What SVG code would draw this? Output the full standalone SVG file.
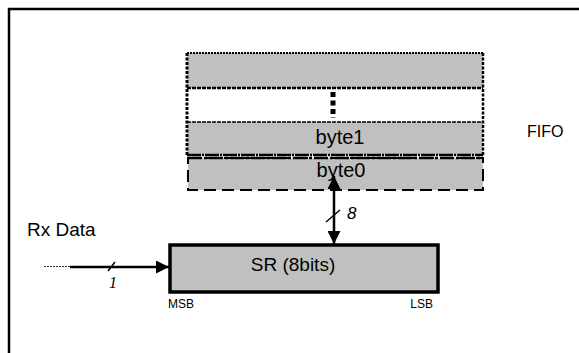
<svg xmlns="http://www.w3.org/2000/svg" width="579" height="353" viewBox="0 0 579 353">
<style>
.t{font-family:"Liberation Sans",Arial,sans-serif;fill:#000}
.gray{fill:#c0c0c0}
.edge{stroke:#000;fill:none}
</style>
<defs>
<marker id="ah2" markerWidth="13" markerHeight="13" refX="13" refY="6.5" orient="auto-start-reverse" markerUnits="userSpaceOnUse" viewBox="0 0 13 13">
<path d="M0,0 L13,6.5 L0,13 z" fill="#000"/>
</marker>
</defs>
<rect width="579" height="353" fill="#fff"/>
<path d="M9,353 V9 H579" fill="none" stroke="#000" stroke-width="2.5"/>
<g id="fifo">
<rect x="187" y="53" width="296" height="35" class="gray"/>
<rect x="187" y="88" width="296" height="34" fill="#fff"/>
<rect x="187" y="122" width="296" height="33" class="gray"/>
<line x1="187" y1="53" x2="483" y2="53" class="edge" stroke-width="2" stroke-dasharray="2,1"/>
<line x1="187" y1="53" x2="187" y2="155" class="edge" stroke-width="3" stroke-dasharray="3,1.5"/>
<line x1="483" y1="53" x2="483" y2="155" class="edge" stroke-width="2.5" stroke-dasharray="3,1.5"/>
<line x1="187" y1="88" x2="483" y2="88" class="edge" stroke-width="2.5" stroke-dasharray="4,1"/>
<line x1="187" y1="122" x2="483" y2="122" class="edge" stroke-width="1.5" stroke-dasharray="4,1" stroke="#333"/>
<line x1="187" y1="155" x2="483" y2="155" class="edge" stroke-width="2.5" stroke-dasharray="14,1,2,1"/>
<line x1="333" y1="92" x2="333" y2="118" class="edge" stroke-width="5" stroke-dasharray="5,3.5"/>
<text x="340" y="144" class="t" font-size="20" text-anchor="middle">byte1</text>
<text x="527" y="137" class="t" font-size="16">FIFO</text>
</g>
<g id="byte0">
<rect x="188" y="158" width="295" height="32" class="gray"/>
<rect x="188" y="158" width="295" height="32" class="edge" stroke-width="2" stroke-dasharray="12,6"/>
<line x1="188" y1="158" x2="483" y2="158" class="edge" stroke-width="2.5" stroke-dasharray="14,2,3,2"/>
<text x="341" y="177" class="t" font-size="20" text-anchor="middle">byte0</text>
</g>
<g id="sr">
<rect x="170" y="245" width="268" height="47" class="gray" stroke="#000" stroke-width="3.5"/>
<text x="293" y="271" class="t" font-size="19" text-anchor="middle">SR (8bits)</text>
<text x="168" y="308" class="t" font-size="12">MSB</text>
<text x="433" y="308" class="t" font-size="12" text-anchor="end">LSB</text>
</g>
<g id="rxdata">
<text x="27" y="236" class="t" font-size="19">Rx Data</text>
</g>
<g id="connectors">
<line x1="334" y1="176" x2="334" y2="244" stroke="#000" stroke-width="2.5" marker-start="url(#ah2)" marker-end="url(#ah2)"/>
<line x1="326" y1="222" x2="340" y2="210" stroke="#000" stroke-width="1.5"/>
<text x="347" y="219" class="t" font-size="17" font-style="italic">8</text>
<line x1="44" y1="266.5" x2="70" y2="266.5" stroke="#000" stroke-width="0.8" stroke-dasharray="2,1"/>
<line x1="70" y1="267" x2="169" y2="267" stroke="#000" stroke-width="2.5" marker-end="url(#ah2)"/>
<line x1="108" y1="271" x2="115" y2="262" stroke="#000" stroke-width="1.5"/>
<text x="109" y="288" font-family="Liberation Serif,serif" font-size="16" font-style="italic">1</text>
</g>
</svg>
